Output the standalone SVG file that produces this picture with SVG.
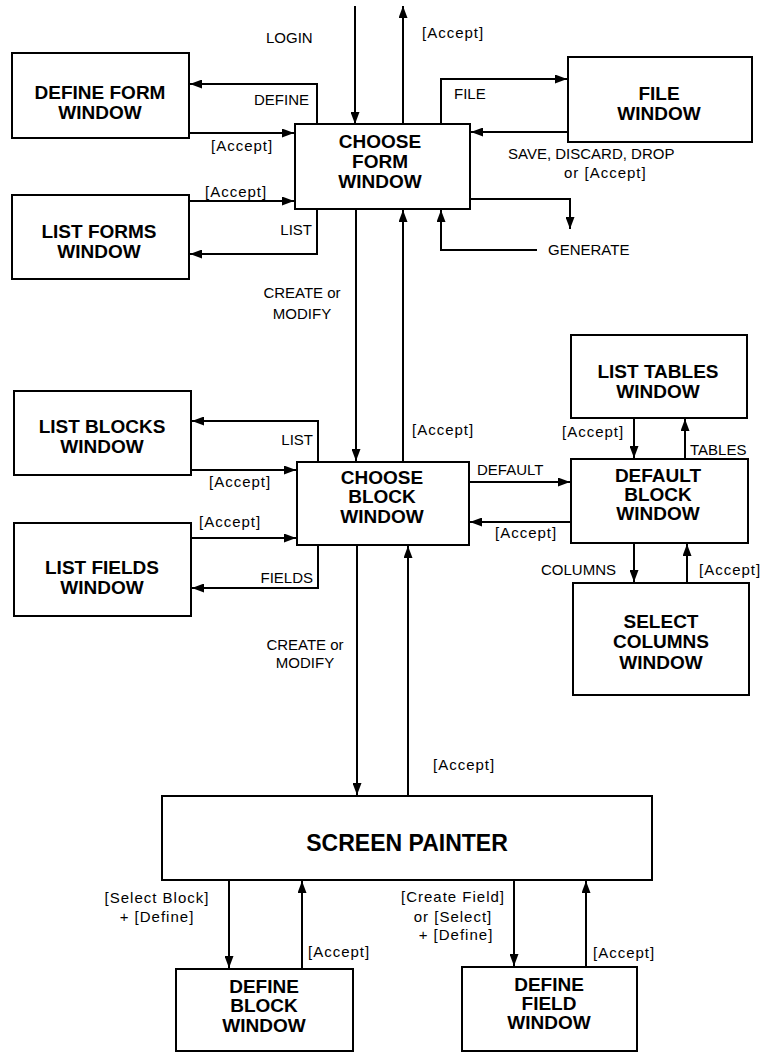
<svg xmlns="http://www.w3.org/2000/svg" width="766" height="1053" viewBox="0 0 766 1053">
<style>
.box{fill:#fff;stroke:#000;stroke-width:2}
.t{font-family:"Liberation Sans",Arial,sans-serif;font-weight:bold;font-size:19px;text-anchor:middle;fill:#000}
.big{font-size:23px}
.l{font-family:"Liberation Sans",Arial,sans-serif;font-size:15px;fill:#000}
.m{letter-spacing:1px}
.c{text-anchor:middle}
.e{text-anchor:end}
.cn path{fill:none;stroke:#000;stroke-width:2;marker-end:url(#ah)}
</style>
<defs>
<marker id="ah" markerWidth="13" markerHeight="9" refX="12" refY="4.5" orient="auto" markerUnits="userSpaceOnUse">
<path d="M0,0 L12,4.5 L0,9 z" fill="#000"/>
</marker>
</defs>
<rect width="766" height="1053" fill="#fff"/>

<g id="connectors" class="cn">
<path d="M355,6 V124"/>
<path d="M403,124 V6"/>
<path d="M317,124 V84 H190"/>
<path d="M189,133 H294"/>
<path d="M189,201 H294"/>
<path d="M317,209 V254 H190"/>
<path d="M441,124 V79 H567"/>
<path d="M568,132 H471"/>
<path d="M470,199 H570 V229"/>
<path d="M537,250 H441 V210"/>
<path d="M356,209 V461"/>
<path d="M403,462 V210"/>
<path d="M318,462 V421 H192"/>
<path d="M191,470 H296"/>
<path d="M191,538 H296"/>
<path d="M318,545 V588 H192"/>
<path d="M469,482 H570"/>
<path d="M571,522 H470"/>
<path d="M634,418 V458"/>
<path d="M685,459 V419"/>
<path d="M634,543 V582"/>
<path d="M687,583 V544"/>
<path d="M357,545 V795"/>
<path d="M408,796 V546"/>
<path d="M229,880 V968"/>
<path d="M302,969 V881"/>
<path d="M514,880 V966"/>
<path d="M586,967 V881"/>
</g>

<g id="labels">
<text class="l" x="266" y="43">LOGIN</text>
<text class="l m" x="422" y="38">[Accept]</text>
<text class="l e" x="309" y="105">DEFINE</text>
<text class="l m" x="211" y="151">[Accept]</text>
<text class="l m" x="205" y="197">[Accept]</text>
<text class="l e" x="312" y="235">LIST</text>
<text class="l" x="454" y="99">FILE</text>
<text class="l" x="508" y="159">SAVE, DISCARD, DROP</text>
<text class="l m" x="564" y="178">or [Accept]</text>
<text class="l" x="548" y="255">GENERATE</text>
<text class="l c" x="302" y="298">CREATE or</text>
<text class="l c" x="302" y="319">MODIFY</text>
<text class="l m" x="412" y="435">[Accept]</text>
<text class="l e" x="313" y="445">LIST</text>
<text class="l m" x="209" y="487">[Accept]</text>
<text class="l m" x="199" y="527">[Accept]</text>
<text class="l e" x="313" y="583">FIELDS</text>
<text class="l" x="477" y="475">DEFAULT</text>
<text class="l m" x="495" y="538">[Accept]</text>
<text class="l m" x="562" y="437">[Accept]</text>
<text class="l" x="690" y="455">TABLES</text>
<text class="l" x="541" y="575">COLUMNS</text>
<text class="l m" x="699" y="575">[Accept]</text>
<text class="l c" x="305" y="650">CREATE or</text>
<text class="l c" x="305" y="668">MODIFY</text>
<text class="l m" x="433" y="770">[Accept]</text>
<text class="l m c" x="157" y="903">[Select Block]</text>
<text class="l m c" x="157" y="922">+ [Define]</text>
<text class="l m" x="308" y="957">[Accept]</text>
<text class="l m c" x="453" y="902">[Create Field]</text>
<text class="l m c" x="453" y="922">or [Select]</text>
<text class="l m c" x="456" y="940">+ [Define]</text>
<text class="l m" x="593" y="958">[Accept]</text>
</g>

<g id="define-form">
<rect class="box" x="12" y="53" width="177" height="85"/>
<text class="t" x="100" y="99">DEFINE FORM</text>
<text class="t" x="100" y="119">WINDOW</text>
</g>
<g id="choose-form">
<rect class="box" x="295" y="124" width="175" height="85"/>
<text class="t" x="380" y="148">CHOOSE</text>
<text class="t" x="380" y="168">FORM</text>
<text class="t" x="380" y="188">WINDOW</text>
</g>
<g id="file-window">
<rect class="box" x="568" y="57" width="184" height="85"/>
<text class="t" x="659" y="100">FILE</text>
<text class="t" x="659" y="120">WINDOW</text>
</g>
<g id="list-forms">
<rect class="box" x="12" y="195" width="177" height="84"/>
<text class="t" x="99" y="238">LIST FORMS</text>
<text class="t" x="99" y="258">WINDOW</text>
</g>
<g id="list-blocks">
<rect class="box" x="14" y="391" width="177" height="84"/>
<text class="t" x="102" y="433">LIST BLOCKS</text>
<text class="t" x="102" y="453">WINDOW</text>
</g>
<g id="choose-block">
<rect class="box" x="297" y="462" width="172" height="83"/>
<text class="t" x="382" y="484">CHOOSE</text>
<text class="t" x="382" y="503">BLOCK</text>
<text class="t" x="382" y="523">WINDOW</text>
</g>
<g id="list-fields">
<rect class="box" x="14" y="523" width="177" height="93"/>
<text class="t" x="102" y="574">LIST FIELDS</text>
<text class="t" x="102" y="594">WINDOW</text>
</g>
<g id="list-tables">
<rect class="box" x="571" y="335" width="176" height="83"/>
<text class="t" x="658" y="378">LIST TABLES</text>
<text class="t" x="658" y="398">WINDOW</text>
</g>
<g id="default-block">
<rect class="box" x="571" y="459" width="177" height="84"/>
<text class="t" x="658" y="482">DEFAULT</text>
<text class="t" x="658" y="501">BLOCK</text>
<text class="t" x="658" y="520">WINDOW</text>
</g>
<g id="select-columns">
<rect class="box" x="573" y="583" width="176" height="112"/>
<text class="t" x="661" y="628">SELECT</text>
<text class="t" x="661" y="648">COLUMNS</text>
<text class="t" x="661" y="669">WINDOW</text>
</g>
<g id="screen-painter">
<rect class="box" x="162" y="796" width="490" height="84"/>
<text class="t big" x="407" y="851">SCREEN PAINTER</text>
</g>
<g id="define-block">
<rect class="box" x="176" y="969" width="177" height="82"/>
<text class="t" x="264" y="993">DEFINE</text>
<text class="t" x="264" y="1012">BLOCK</text>
<text class="t" x="264" y="1032">WINDOW</text>
</g>
<g id="define-field">
<rect class="box" x="462" y="967" width="175" height="84"/>
<text class="t" x="549" y="991">DEFINE</text>
<text class="t" x="549" y="1010">FIELD</text>
<text class="t" x="549" y="1029">WINDOW</text>
</g>
</svg>
